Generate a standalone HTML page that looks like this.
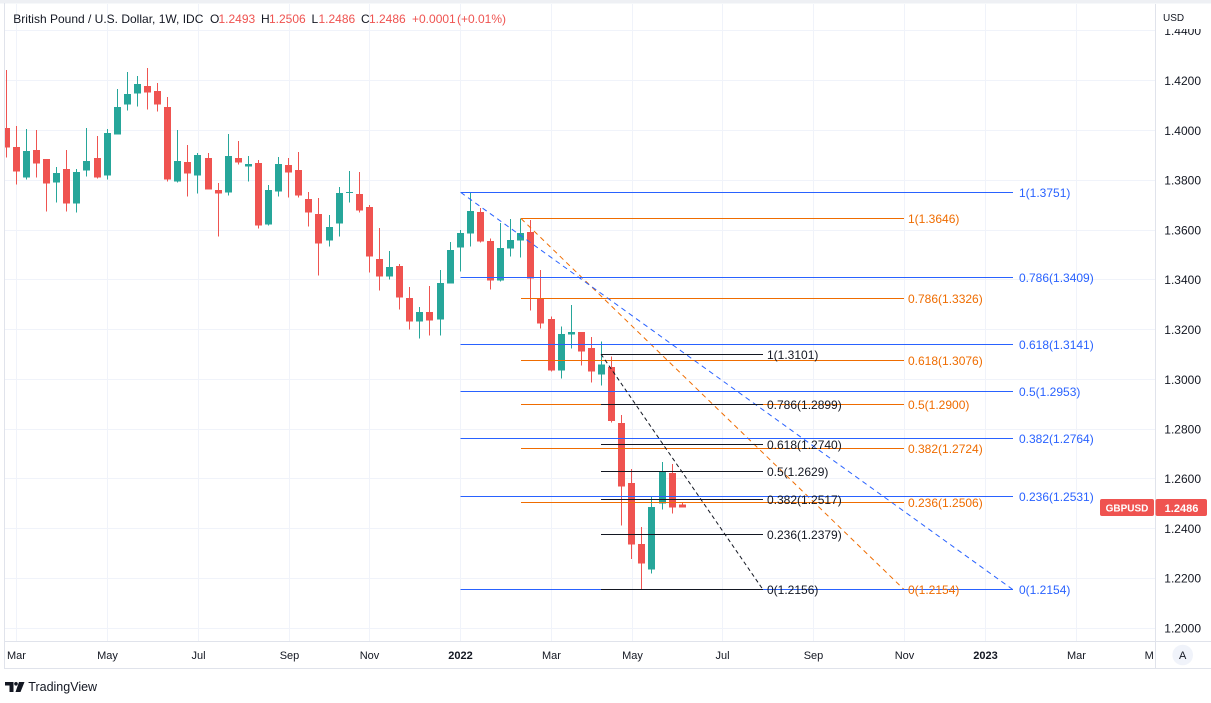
<!DOCTYPE html>
<html>
<head>
<meta charset="utf-8">
<style>
html,body{margin:0;padding:0;background:#ffffff;}
body{width:1211px;height:703px;overflow:hidden;}
svg{display:block;font-family:"Liberation Sans",Arial,sans-serif;}
</style>
</head>
<body>
<svg width="1211" height="703" viewBox="0 0 1211 703" xmlns="http://www.w3.org/2000/svg">
<defs>
<clipPath id="plot"><rect x="5" y="4" width="1150" height="637"/></clipPath>
<clipPath id="taxis"><rect x="5" y="642" width="1149" height="26"/></clipPath>
</defs>
<rect x="0" y="0" width="1211" height="703" fill="#ffffff"/>
<rect x="0" y="0" width="1211" height="3.5" fill="#eef0f4"/>

<g stroke="#f0f3fa" stroke-width="1" shape-rendering="crispEdges">
<line x1="5" x2="1155" y1="30.5" y2="30.5"/>
<line x1="5" x2="1155" y1="80.5" y2="80.5"/>
<line x1="5" x2="1155" y1="130.5" y2="130.5"/>
<line x1="5" x2="1155" y1="180.5" y2="180.5"/>
<line x1="5" x2="1155" y1="230.5" y2="230.5"/>
<line x1="5" x2="1155" y1="279.5" y2="279.5"/>
<line x1="5" x2="1155" y1="329.5" y2="329.5"/>
<line x1="5" x2="1155" y1="379.5" y2="379.5"/>
<line x1="5" x2="1155" y1="429.5" y2="429.5"/>
<line x1="5" x2="1155" y1="478.5" y2="478.5"/>
<line x1="5" x2="1155" y1="528.5" y2="528.5"/>
<line x1="5" x2="1155" y1="578.5" y2="578.5"/>
<line x1="5" x2="1155" y1="628.5" y2="628.5"/>
<line y1="4" y2="641" x1="16.5" x2="16.5"/>
<line y1="4" y2="641" x1="107.5" x2="107.5"/>
<line y1="4" y2="641" x1="198.5" x2="198.5"/>
<line y1="4" y2="641" x1="289.5" x2="289.5"/>
<line y1="4" y2="641" x1="369.5" x2="369.5"/>
<line y1="4" y2="641" x1="460.5" x2="460.5"/>
<line y1="4" y2="641" x1="551.5" x2="551.5"/>
<line y1="4" y2="641" x1="632.5" x2="632.5"/>
<line y1="4" y2="641" x1="722.5" x2="722.5"/>
<line y1="4" y2="641" x1="813.5" x2="813.5"/>
<line y1="4" y2="641" x1="904.5" x2="904.5"/>
<line y1="4" y2="641" x1="985.5" x2="985.5"/>
<line y1="4" y2="641" x1="1076.5" x2="1076.5"/>
</g>

<g clip-path="url(#plot)">
<g fill="#ef5350" shape-rendering="crispEdges">
<rect x="6" y="70" width="1" height="87.7"/><rect x="3" y="128" width="7" height="19.7"/>
<rect x="16" y="126" width="1" height="58.7"/><rect x="13" y="147" width="7" height="24.7"/>
<rect x="36" y="130" width="1" height="47.7"/><rect x="33" y="150" width="7" height="13.7"/>
<rect x="46" y="159" width="1" height="52.7"/><rect x="43" y="159" width="7" height="24.7"/>
<rect x="66" y="150" width="1" height="61.7"/><rect x="63" y="169" width="7" height="34.7"/>
<rect x="97" y="136" width="1" height="42.7"/><rect x="94" y="158" width="7" height="19.7"/>
<rect x="147" y="68" width="1" height="41.7"/><rect x="144" y="86" width="7" height="6.7"/>
<rect x="157" y="83" width="1" height="28.7"/><rect x="154" y="91" width="7" height="13.7"/>
<rect x="167" y="97" width="1" height="84.7"/><rect x="164" y="107" width="7" height="72.7"/>
<rect x="187" y="145" width="1" height="51.7"/><rect x="184" y="162" width="7" height="11.7"/>
<rect x="208" y="153" width="1" height="36.7"/><rect x="205" y="158" width="7" height="31.7"/>
<rect x="218" y="183" width="1" height="53.7"/><rect x="215" y="190" width="7" height="3.7"/>
<rect x="238" y="141" width="1" height="23.7"/><rect x="235" y="158" width="7" height="4.7"/>
<rect x="258" y="160" width="1" height="68.7"/><rect x="255" y="163" width="7" height="62.7"/>
<rect x="288" y="158" width="1" height="39.7"/><rect x="285" y="165" width="7" height="7.7"/>
<rect x="298" y="152" width="1" height="45.7"/><rect x="295" y="170" width="7" height="25.7"/>
<rect x="308" y="192" width="1" height="34.7"/><rect x="305" y="199" width="7" height="13.7"/>
<rect x="318" y="198" width="1" height="77.7"/><rect x="315" y="214" width="7" height="29.7"/>
<rect x="359" y="172" width="1" height="40.7"/><rect x="356" y="194" width="7" height="16.7"/>
<rect x="369" y="205" width="1" height="67.7"/><rect x="366" y="207" width="7" height="49.7"/>
<rect x="379" y="228" width="1" height="62.7"/><rect x="376" y="259" width="7" height="17.7"/>
<rect x="399" y="264" width="1" height="45.7"/><rect x="396" y="266" width="7" height="31.7"/>
<rect x="409" y="287" width="1" height="42.7"/><rect x="406" y="298" width="7" height="23.7"/>
<rect x="429" y="286" width="1" height="49.7"/><rect x="426" y="312" width="7" height="8.7"/>
<rect x="480" y="208" width="1" height="34.7"/><rect x="477" y="212" width="7" height="29.7"/>
<rect x="490" y="238.3" width="1" height="51.4"/><rect x="487" y="241" width="7" height="39.7"/>
<rect x="530" y="220" width="1" height="90.7"/><rect x="527" y="232" width="7" height="46.7"/>
<rect x="540" y="270" width="1" height="58.7"/><rect x="537" y="298" width="7" height="25.7"/>
<rect x="551" y="316.7" width="1" height="55"/><rect x="548" y="319" width="7" height="51.7"/>
<rect x="581" y="332" width="1" height="33.7"/><rect x="578" y="332" width="7" height="19.7"/>
<rect x="591" y="337" width="1" height="45.7"/><rect x="588" y="348" width="7" height="23.7"/>
<rect x="611" y="356.7" width="1" height="66"/><rect x="608" y="367" width="7" height="54"/>
<rect x="621" y="415" width="1" height="110.7"/><rect x="618" y="423" width="7" height="63.7"/>
<rect x="631" y="469" width="1" height="90"/><rect x="628" y="483" width="7" height="61.7"/>
<rect x="641" y="527" width="1" height="62.3"/><rect x="638" y="544" width="7" height="19.7"/>
<rect x="672" y="464" width="1" height="49.7"/><rect x="669" y="473" width="7" height="34.7"/>
<rect x="682" y="502.7" width="1" height="5"/><rect x="679" y="504.7" width="7" height="3"/>
</g>
<g fill="#26a69a" shape-rendering="crispEdges">
<rect x="26" y="129" width="1" height="50.7"/><rect x="23" y="151" width="7" height="26.7"/>
<rect x="56" y="167" width="1" height="35.7"/><rect x="53" y="173" width="7" height="9.7"/>
<rect x="76" y="169" width="1" height="43.7"/><rect x="73" y="172" width="7" height="31.7"/>
<rect x="86" y="128" width="1" height="48.7"/><rect x="83" y="161" width="7" height="9.7"/>
<rect x="107" y="129" width="1" height="50.7"/><rect x="104" y="133" width="7" height="42.7"/>
<rect x="117" y="89" width="1" height="45.7"/><rect x="114" y="107" width="7" height="27.7"/>
<rect x="127" y="72" width="1" height="38.7"/><rect x="124" y="94" width="7" height="10.7"/>
<rect x="137" y="76" width="1" height="30.7"/><rect x="134" y="84" width="7" height="9.7"/>
<rect x="177" y="130" width="1" height="52.7"/><rect x="174" y="161" width="7" height="20.7"/>
<rect x="197" y="153" width="1" height="40.7"/><rect x="194" y="155" width="7" height="20.7"/>
<rect x="228" y="134" width="1" height="61.7"/><rect x="225" y="156" width="7" height="36.7"/>
<rect x="248" y="156" width="1" height="25.7"/><rect x="245" y="164" width="7" height="2.7"/>
<rect x="268" y="185" width="1" height="40.7"/><rect x="265" y="190" width="7" height="34.7"/>
<rect x="278" y="157" width="1" height="39.7"/><rect x="275" y="164" width="7" height="27.7"/>
<rect x="329" y="215" width="1" height="31.7"/><rect x="326" y="227" width="7" height="13.7"/>
<rect x="339" y="187" width="1" height="49.7"/><rect x="336" y="193" width="7" height="30.7"/>
<rect x="349" y="171" width="1" height="31.7"/><rect x="346" y="192" width="7" height="1"/>
<rect x="389" y="251" width="1" height="28.7"/><rect x="386" y="267" width="7" height="9.7"/>
<rect x="419" y="307" width="1" height="31.7"/><rect x="416" y="312" width="7" height="9.7"/>
<rect x="440" y="270" width="1" height="65.7"/><rect x="437" y="283" width="7" height="36.7"/>
<rect x="450" y="242" width="1" height="41.7"/><rect x="447" y="250" width="7" height="33.7"/>
<rect x="460" y="230" width="1" height="41.7"/><rect x="457" y="233" width="7" height="14.7"/>
<rect x="470" y="192.7" width="1" height="54"/><rect x="467" y="211" width="7" height="22.7"/>
<rect x="500" y="223" width="1" height="58.7"/><rect x="497" y="248" width="7" height="32.7"/>
<rect x="510" y="219" width="1" height="37.7"/><rect x="507" y="240" width="7" height="8.7"/>
<rect x="520" y="218.3" width="1" height="39.4"/><rect x="517" y="233" width="7" height="7.7"/>
<rect x="561" y="326.7" width="1" height="52"/><rect x="558" y="334" width="7" height="36.7"/>
<rect x="571" y="305" width="1" height="43.7"/><rect x="568" y="332" width="7" height="2.7"/>
<rect x="601" y="341.7" width="1" height="44"/><rect x="598" y="364.7" width="7" height="10"/>
<rect x="651" y="496.7" width="1" height="77"/><rect x="648" y="507" width="7" height="62.7"/>
<rect x="662" y="462" width="1" height="47.7"/><rect x="659" y="471.3" width="7" height="32.4"/>
</g>

<g stroke="#ef6c00" stroke-width="1" shape-rendering="crispEdges">
<line x1="521" x2="904" y1="218.5" y2="218.5"/>
<line x1="521" x2="904" y1="298.5" y2="298.5"/>
<line x1="521" x2="904" y1="360.5" y2="360.5"/>
<line x1="521" x2="904" y1="404.5" y2="404.5"/>
<line x1="521" x2="904" y1="448.5" y2="448.5"/>
<line x1="521" x2="904" y1="502.5" y2="502.5"/>
<line x1="521" x2="904" y1="589.5" y2="589.5"/>
</g>
<line x1="521" y1="218.5" x2="904" y2="589.5" stroke="#ef6c00" stroke-width="1" stroke-dasharray="5 4"/>
<g stroke="#2962ff" stroke-width="1" shape-rendering="crispEdges">
<line x1="460.7" x2="1013" y1="192.5" y2="192.5"/>
<line x1="460.7" x2="1013" y1="277.5" y2="277.5"/>
<line x1="460.7" x2="1013" y1="344.5" y2="344.5"/>
<line x1="460.7" x2="1013" y1="391.5" y2="391.5"/>
<line x1="460.7" x2="1013" y1="438.5" y2="438.5"/>
<line x1="460.7" x2="1013" y1="496.5" y2="496.5"/>
<line x1="460.7" x2="1013" y1="589.5" y2="589.5"/>
</g>
<line x1="460.7" y1="192.4" x2="1013" y2="589.7" stroke="#2962ff" stroke-width="1" stroke-dasharray="5 4"/>
<g stroke="#131722" stroke-width="1" shape-rendering="crispEdges">
<line x1="601" x2="763" y1="354.5" y2="354.5"/>
<line x1="601" x2="763" y1="404.5" y2="404.5"/>
<line x1="601" x2="763" y1="444.5" y2="444.5"/>
<line x1="601" x2="763" y1="471.5" y2="471.5"/>
<line x1="601" x2="763" y1="499.5" y2="499.5"/>
<line x1="601" x2="763" y1="534.5" y2="534.5"/>
<line x1="601" x2="763" y1="589.5" y2="589.5"/>
</g>
<line x1="601" y1="354.1" x2="762.7" y2="589.2" stroke="#131722" stroke-width="1" stroke-dasharray="4 3"/>

<g font-size="12" fill="#ef6c00">
<text x="908" y="223">1(1.3646)</text>
<text x="908" y="303">0.786(1.3326)</text>
<text x="908" y="365">0.618(1.3076)</text>
<text x="908" y="409">0.5(1.2900)</text>
<text x="908" y="453">0.382(1.2724)</text>
<text x="908" y="507">0.236(1.2506)</text>
<text x="908" y="594">0(1.2154)</text>
</g>
<g font-size="12" fill="#2962ff">
<text x="1019" y="197">1(1.3751)</text>
<text x="1019" y="282">0.786(1.3409)</text>
<text x="1019" y="349">0.618(1.3141)</text>
<text x="1019" y="396">0.5(1.2953)</text>
<text x="1019" y="443">0.382(1.2764)</text>
<text x="1019" y="501">0.236(1.2531)</text>
<text x="1019" y="594">0(1.2154)</text>
</g>
<g font-size="12" fill="#131722">
<text x="767" y="359">1(1.3101)</text>
<text x="767" y="409">0.786(1.2899)</text>
<text x="767" y="449">0.618(1.2740)</text>
<text x="767" y="476">0.5(1.2629)</text>
<text x="767" y="504">0.382(1.2517)</text>
<text x="767" y="539">0.236(1.2379)</text>
<text x="767" y="594">0(1.2156)</text>
</g>
</g>

<g fill="#e0e3eb" shape-rendering="crispEdges">
<rect x="4" y="3" width="1" height="666"/>
<rect x="4" y="641" width="1207" height="1"/>
<rect x="4" y="668" width="1207" height="1"/>
<rect x="1155" y="4" width="1" height="664"/>
</g>

<g font-size="12">
<text x="13.3" y="23" fill="#131722">British Pound / U.S. Dollar, 1W, IDC</text>
<text x="210" y="23" fill="#131722">O</text><text x="218.5" y="23" fill="#ef5350">1.2493</text>
<text x="261" y="23" fill="#131722">H</text><text x="269" y="23" fill="#ef5350">1.2506</text>
<text x="311.5" y="23" fill="#131722">L</text><text x="318.5" y="23" fill="#ef5350">1.2486</text>
<text x="361" y="23" fill="#131722">C</text><text x="369" y="23" fill="#ef5350">1.2486</text>
<text x="412" y="23" fill="#ef5350">+0.0001</text>
<text x="457" y="23" fill="#ef5350">(+0.01%)</text>
</g>

<g font-size="12" fill="#131722" text-anchor="end">
<text x="1201" y="35">1.4400</text>
<text x="1201" y="85">1.4200</text>
<text x="1201" y="135">1.4000</text>
<text x="1201" y="184.5">1.3800</text>
<text x="1201" y="234.5">1.3600</text>
<text x="1201" y="284">1.3400</text>
<text x="1201" y="334">1.3200</text>
<text x="1201" y="384">1.3000</text>
<text x="1201" y="433.5">1.2800</text>
<text x="1201" y="483">1.2600</text>
<text x="1201" y="533">1.2400</text>
<text x="1201" y="582.5">1.2200</text>
<text x="1201" y="632.5">1.2000</text>
</g>
<rect x="1156" y="3.5" width="55" height="25.5" fill="#ffffff"/>
<text x="1163" y="21" font-size="10" fill="#131722">USD</text>

<rect x="1100" y="499" width="54" height="17" rx="2" fill="#ef5350"/>
<text x="1127" y="511.5" font-size="10" font-weight="bold" fill="#ffffff" text-anchor="middle">GBPUSD</text>
<rect x="1155.5" y="499" width="51.5" height="17" rx="2" fill="#ef5350"/>
<text x="1181.5" y="511.8" font-size="11" font-weight="bold" fill="#ffffff" text-anchor="middle">1.2486</text>

<g font-size="11" fill="#131722" text-anchor="middle" clip-path="url(#taxis)">
<text x="16.5" y="659">Mar</text>
<text x="107.5" y="659">May</text>
<text x="198.5" y="659">Jul</text>
<text x="289.5" y="659">Sep</text>
<text x="369.5" y="659">Nov</text>
<text x="460.5" y="659" font-weight="bold">2022</text>
<text x="551.5" y="659">Mar</text>
<text x="632.5" y="659">May</text>
<text x="722.5" y="659">Jul</text>
<text x="813.5" y="659">Sep</text>
<text x="904.5" y="659">Nov</text>
<text x="985.5" y="659" font-weight="bold">2023</text>
<text x="1076.5" y="659">Mar</text>
<text x="1155" y="659">May</text>
</g>
<circle cx="1182.7" cy="655" r="10.3" fill="#f0f3fa"/>
<text x="1182.7" y="659" font-size="11" fill="#131722" text-anchor="middle">A</text>

<g fill="#131722">
<path d="M5 682 H13.5 V692 H9.5 V685.5 H5 Z"/>
<circle cx="16" cy="683.8" r="1.8"/>
<path d="M19 682 H24.5 L20.5 692 H15.5 Z"/>
</g>
<text x="28.3" y="691" font-size="12.5" fill="#131722">TradingView</text>
</svg>
</body>
</html>
